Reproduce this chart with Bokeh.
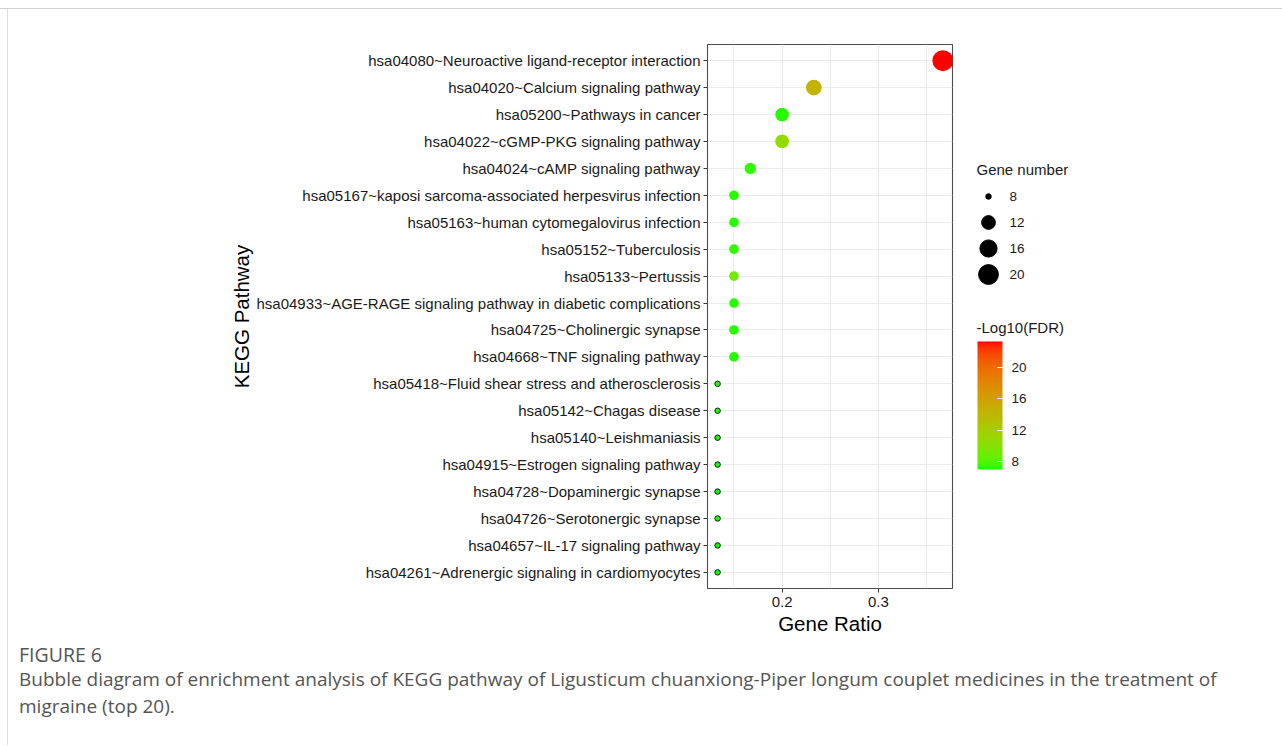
import numpy as np
from bokeh.plotting import figure
from bokeh.models import (ColumnDataSource, FactorRange, Range1d, FixedTicker,
                          LinearColorMapper, ColorBar, Div)
from bokeh.layouts import column, row
from bokeh.embed import file_html
from bokeh.resources import INLINE
from bokeh.core.properties import value

# ---------------- data (top to bottom) ----------------
pathways = [
    "hsa04080~Neuroactive ligand-receptor interaction",
    "hsa04020~Calcium signaling pathway",
    "hsa05200~Pathways in cancer",
    "hsa04022~cGMP-PKG signaling pathway",
    "hsa04024~cAMP signaling pathway",
    "hsa05167~kaposi sarcoma-associated herpesvirus infection",
    "hsa05163~human cytomegalovirus infection",
    "hsa05152~Tuberculosis",
    "hsa05133~Pertussis",
    "hsa04933~AGE-RAGE signaling pathway in diabetic complications",
    "hsa04725~Cholinergic synapse",
    "hsa04668~TNF signaling pathway",
    "hsa05418~Fluid shear stress and atherosclerosis",
    "hsa05142~Chagas disease",
    "hsa05140~Leishmaniasis",
    "hsa04915~Estrogen signaling pathway",
    "hsa04728~Dopaminergic synapse",
    "hsa04726~Serotonergic synapse",
    "hsa04657~IL-17 signaling pathway",
    "hsa04261~Adrenergic signaling in cardiomyocytes",
]
gene_ratio = [0.367, 0.233, 0.200, 0.200, 0.167,
              0.150, 0.150, 0.150, 0.150, 0.150, 0.150, 0.150,
              0.133, 0.133, 0.133, 0.133, 0.133, 0.133, 0.133, 0.133]
gene_count = [22, 14, 12, 12, 10,
              9, 9, 9, 9, 9, 9, 9,
              8, 8, 8, 8, 8, 8, 8, 8]
neg_log10_fdr = [23.3, 14.5, 7.3, 10.8, 7.4,
                 7.3, 7.3, 7.4, 9.0, 7.3, 7.3, 7.2,
                 7.2, 7.1, 7.1, 7.1, 7.0, 7.1, 7.0, 7.0]
size_legend_counts = [8, 12, 16, 20]
fdr_ticks = [8, 12, 16, 20]
x_ticks = [0.2, 0.3]
x_minor_ticks = [0.15, 0.25, 0.35]

FONT = "Liberation Sans"


# ---------------- colour palette: green -> red interpolated in Lab ----------------
def _srgb_to_lab(rgb):
    c = np.array(rgb, dtype=float) / 255.0
    c = np.where(c > 0.04045, ((c + 0.055) / 1.055) ** 2.4, c / 12.92)
    M = np.array([[0.4124, 0.3576, 0.1805],
                  [0.2126, 0.7152, 0.0722],
                  [0.0193, 0.1192, 0.9505]])
    xyz = M @ c / np.array([0.95047, 1.0, 1.08883])
    f = np.where(xyz > 0.008856, np.cbrt(xyz), 7.787 * xyz + 16 / 116)
    return np.array([116 * f[1] - 16, 500 * (f[0] - f[1]), 200 * (f[1] - f[2])])


def _lab_to_hex(lab):
    L, a, b = lab
    fy = (L + 16) / 116
    fx = fy + a / 500
    fz = fy - b / 200
    f = np.array([fx, fy, fz])
    xyz = np.where(f ** 3 > 0.008856, f ** 3, (f - 16 / 116) / 7.787)
    xyz = xyz * np.array([0.95047, 1.0, 1.08883])
    Minv = np.array([[3.2406, -1.5372, -0.4986],
                     [-0.9689, 1.8758, 0.0415],
                     [0.0557, -0.2040, 1.0570]])
    lin = np.clip(Minv @ xyz, 0, 1)
    s = np.where(lin > 0.0031308, 1.055 * lin ** (1 / 2.4) - 0.055, 12.92 * lin)
    r, g, bb = (np.clip(np.round(s * 255), 0, 255)).astype(int)
    return "#%02x%02x%02x" % (r, g, bb)


lab_lo = _srgb_to_lab((0, 255, 0))
lab_hi = _srgb_to_lab((255, 0, 0))
palette = [_lab_to_hex(lab_lo + (lab_hi - lab_lo) * t) for t in np.linspace(0, 1, 256)]
mapper = LinearColorMapper(palette=palette, low=min(neg_log10_fdr), high=max(neg_log10_fdr))

cmin, cmax = min(gene_count), max(gene_count)


def size_of(c):
    return 5.5 + 15.5 * np.sqrt((c - cmin) / (cmax - cmin))


src = ColumnDataSource(dict(
    pathway=pathways,
    ratio=gene_ratio,
    count=gene_count,
    fdr=neg_log10_fdr,
    size=[size_of(c) for c in gene_count],
    lalpha=[1.0 if c == cmin else 0.0 for c in gene_count],
))

# target frame in page pixels: left 708, width 245, top 45, height 544
TOP_STRIP = 10      # thin strip carrying the figure box's top rule
LEFT_STRIP = 9      # thin strip carrying the figure box's left rule
FRAME_TOP = 45
FRAME_BOT = FRAME_TOP + 544
H = 629
B_TOP = FRAME_TOP - TOP_STRIP
B_BOT = H + TOP_STRIP - FRAME_BOT
W_MAIN = 954
B_LEFT = 708 - LEFT_STRIP

p = figure(width=W_MAIN, height=H,
           x_range=Range1d(0.1225, 0.377),
           y_range=FactorRange(factors=list(reversed(pathways)),
                               range_padding=0.1, range_padding_units="absolute"),
           output_backend="svg", toolbar_location=None,
           min_border_left=B_LEFT, min_border_right=W_MAIN - B_LEFT - 245,
           min_border_top=B_TOP, min_border_bottom=B_BOT,
           x_axis_label="Gene Ratio", y_axis_label="KEGG Pathway")
p.background_fill_color = "white"
p.border_fill_color = "white"
p.outline_line_color = "#4d4d4d"
p.outline_line_width = 1.1

p.xaxis.ticker = FixedTicker(ticks=x_ticks, minor_ticks=x_minor_ticks)
for ax in (p.xaxis[0], p.yaxis[0]):
    ax.axis_line_color = None
    ax.major_tick_out = 4
    ax.major_tick_in = 0
    ax.major_tick_line_color = "#333333"
    ax.minor_tick_line_color = None
    ax.major_label_text_font = FONT
    ax.major_label_text_font_size = "15px"
    ax.major_label_text_color = "#1a1a1a"
    ax.axis_label_text_font = FONT
    ax.axis_label_text_font_style = "normal"
    ax.axis_label_text_font_size = "20.5px"
    ax.axis_label_text_color = "#000000"
p.yaxis.major_label_standoff = 3
p.xaxis.major_label_standoff = 4
p.xaxis.axis_label_standoff = 2
p.yaxis.axis_label_standoff = 0

p.xgrid.grid_line_color = "#ebebeb"
p.xgrid.grid_line_width = 1.2
p.xgrid.minor_grid_line_color = "#ebebeb"
p.xgrid.minor_grid_line_width = 1.0
p.ygrid.grid_line_color = "#ebebeb"
p.ygrid.grid_line_width = 1.2

p.scatter(x="ratio", y="pathway", size="size", source=src,
          fill_color={"field": "fdr", "transform": mapper},
          line_color="#1a1a1a", line_alpha="lalpha", line_width=1)

# ---------------- legend panel (its frame is aligned with the main frame) ----------------
W_LEG = 300
X0 = LEFT_STRIP + W_MAIN
leg = figure(width=W_LEG, height=H,
             x_range=Range1d(X0, X0 + W_LEG), y_range=Range1d(FRAME_BOT, FRAME_TOP),
             output_backend="svg", toolbar_location=None,
             min_border_left=0, min_border_right=0,
             min_border_top=B_TOP, min_border_bottom=B_BOT,
             x_axis_type=None, y_axis_type=None)
leg.grid.visible = False
leg.outline_line_color = None
leg.background_fill_color = "white"
leg.border_fill_color = "white"

leg.text(x=[977], y=[170], text=["Gene number"], text_font=value(FONT),
         text_font_size="15px", text_baseline="middle", text_color="#1a1a1a")
ly = [197 + 26 * i for i in range(len(size_legend_counts))]
leg.scatter(x=[989] * len(size_legend_counts), y=ly,
            size=[size_of(c) for c in size_legend_counts], color="black")
leg.text(x=[1010] * len(size_legend_counts), y=ly, text=[str(c) for c in size_legend_counts],
         text_font=value(FONT), text_font_size="13.5px", text_baseline="middle",
         text_color="#1a1a1a")

leg.text(x=[977], y=[328], text=["-Log10(FDR)"], text_font=value(FONT),
         text_font_size="15px", text_baseline="middle", text_color="#1a1a1a")

cb = ColorBar(color_mapper=mapper, ticker=FixedTicker(ticks=fdr_ticks),
              width=25, height=128, location=(978 - X0, FRAME_BOT - 470),
              padding=0, margin=0, label_standoff=9,
              major_tick_line_color="white", major_tick_in=5, major_tick_out=0,
              minor_tick_line_color=None, bar_line_color=None,
              border_line_color=None, background_fill_alpha=0,
              major_label_text_font=FONT, major_label_text_font_size="13.5px",
              major_label_text_color="#1a1a1a")
leg.add_layout(cb)

caption = Div(
    text=('<div style="font-family:\'Open Sans\',sans-serif;color:#555555;padding-left:11px;'
          'margin-top:6px;white-space:nowrap;">'
          '<div style="font-size:19.5px;line-height:22px;">FIGURE 6</div>'
          '<div style="font-size:19px;line-height:27px;">'
          'Bubble diagram of enrichment analysis of KEGG pathway of Ligusticum chuanxiong-Piper '
          'longum couplet medicines in the treatment of<br>migraine (top 20).</div></div>'),
    width=W_MAIN + W_LEG, height=90, margin=0)

top_rule = Div(text="", width=1282, height=TOP_STRIP - 1, margin=0,
               styles={"border-bottom": "1px solid #d2d2d2"})
left_rule = Div(text="", width=LEFT_STRIP - 1, height=736, margin=0,
                styles={"border-right": "1px solid #dcdcdc"})

layout = column(top_rule, row(left_rule, column(row(p, leg), caption)))
open("out.html", "w").write(file_html(layout, INLINE))
